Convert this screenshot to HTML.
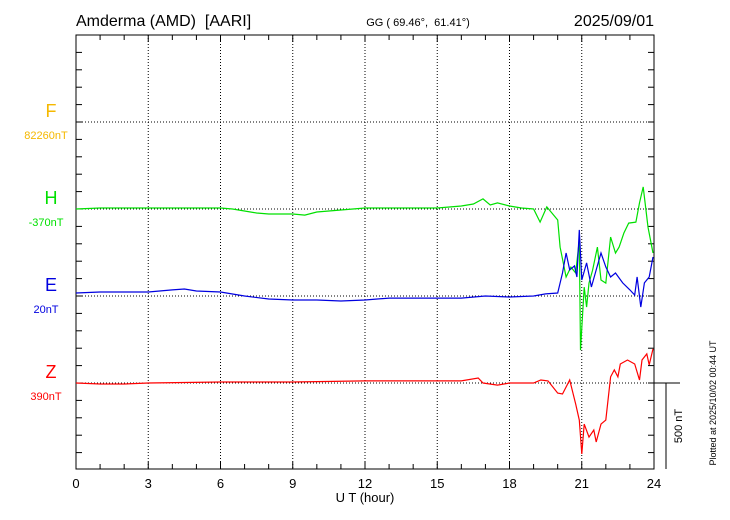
<!DOCTYPE html>
<html><head><meta charset="utf-8"><style>
body{margin:0;background:#fff;}
svg{display:block;font-family:"Liberation Sans",Arial,sans-serif;}
text{white-space:pre;}
</style></head><body>
<svg id="chart" width="730" height="520" viewBox="0 0 730 520">
<text x="76" y="26" font-size="16" xml:space="preserve">Amderma (AMD)  [AARI]</text>
<text x="418" y="26" font-size="11" text-anchor="middle" xml:space="preserve">GG ( 69.46°,  61.41°)</text>
<text x="654" y="26" font-size="16" text-anchor="end">2025/09/01</text>
<g id="grid"></g>
<rect x="76" y="35" width="578" height="434" fill="none" stroke="#000" stroke-width="1"/>
<g id="ticks"></g>
<g id="series"></g>
<g id="labels"></g>
<line x1="654" y1="383" x2="680" y2="383" stroke="#000"/>
<line x1="666" y1="383" x2="666" y2="469" stroke="#000"/>
<text transform="translate(682,426) rotate(-90)" font-size="11" text-anchor="middle">500 nT</text>
<text transform="translate(716,403) rotate(-90)" font-size="9" text-anchor="middle">Plotted at 2025/10/02 00:44 UT</text>
<text x="365" y="502" font-size="13" text-anchor="middle">U T (hour)</text>
</svg>
<script>
const xTicks=[0,3,6,9,12,15,18,21,24];
const compNames=["F","H","E","Z"];
const compBases=["82260nT","-370nT","20nT","390nT"];
const compColors=["#f5b800","#00e000","#0000e0","#ff0000"];
const hTimes=[0,1,3,6,6.5,7.5,8,9,9.5,10,11,12,13,15,16,16.5,16.9,17.2,17.5,18,18.5,19,19.27,19.55,20,20.1,20.35,20.55,20.75,20.9,20.95,21.1,21.2,21.3,21.45,21.65,21.8,22,22.2,22.4,22.55,22.75,22.95,23.25,23.4,23.55,23.6,23.75,23.96];
const hValues=[0,6,6,6,0,-23,-29,-29,-35,-17,-6,6,6,6,17,29,58,23,35,17,6,0,-75,12,-63,-219,-391,-334,-368,-178,-811,-449,-564,-426,-351,-219,-408,-426,-161,-253,-219,-138,-81,-75,35,127,69,-104,-253];
const eTimes=[0,1,3,4,4.5,5,6,7,8,9,10,11,12,13,15,16,17,18,19,19.5,20,20.2,20.35,20.5,20.7,20.8,20.9,21,21.2,21.4,21.6,21.8,22,22.2,22.4,22.7,23,23.2,23.3,23.45,23.6,23.8,23.96];
const eValues=[17,23,23,35,40,29,23,0,-17,-23,-23,-29,-23,-12,-12,-12,0,-6,0,12,17,132,247,150,173,109,380,92,190,52,150,247,167,109,132,75,35,6,109,-63,75,109,224];
const zTimes=[0,1,2,3,6,9,12,14,16,16.7,16.9,17.5,18,19,19.3,19.6,20,20.2,20.5,20.75,20.9,21,21.1,21.3,21.5,21.6,21.8,22,22.2,22.35,22.5,22.6,22.9,23.2,23.4,23.5,23.7,23.8,23.96];
const zValues=[0,-6,-6,0,6,6,12,12,12,29,0,-12,0,0,17,12,-58,-63,17,-121,-213,-408,-236,-311,-270,-339,-236,-213,35,75,35,109,132,109,17,132,167,104,196];
const baseY=[122,209,296,383];
const X0=76,X1=654,Y0=35,Y1=469;
const xs=t=>X0+(X1-X0)*t/24;
const ys=(v,b)=>b-v*87/500;
const NS="http://www.w3.org/2000/svg";
function mk(tag,attrs,parent){const e=document.createElementNS(NS,tag);for(const k in attrs)e.setAttribute(k,attrs[k]);parent.appendChild(e);return e;}
const grid=document.getElementById('grid'),ticks=document.getElementById('ticks'),series=document.getElementById('series'),labels=document.getElementById('labels');
xTicks.forEach(t=>{
  if(t>0&&t<24){const l=mk('line',{x1:xs(t),y1:Y0,x2:xs(t),y2:Y1,stroke:'#000','stroke-dasharray':'1,2'},grid);
  
  }
  const tx=mk('text',{x:xs(t),y:488,'font-size':13,'text-anchor':'middle'},labels);tx.textContent=t;
  
  
});
baseY.forEach(b=>{const l=mk('line',{x1:X0,y1:b,x2:X1,y2:b,stroke:'#000','stroke-dasharray':'1,2'},grid);
  
  });
for(let h=1;h<24;h++){const len=h%3==0?7:5;
  mk('line',{x1:xs(h),y1:Y1,x2:xs(h),y2:Y1-len,stroke:'#000'},ticks);
  mk('line',{x1:xs(h),y1:Y0,x2:xs(h),y2:Y0+len,stroke:'#000'},ticks);}
for(let k=1;k<25;k++){const y=Y0+k*87/5;
  mk('line',{x1:X0,y1:y,x2:X0+6,y2:y,stroke:'#000'},ticks);
  mk('line',{x1:X1,y1:y,x2:X1-6,y2:y,stroke:'#000'},ticks);}
compNames.forEach((n,i)=>{
  const t=mk('text',{x:51,y:baseY[i]-5,'font-size':18,'text-anchor':'middle',fill:compColors[i]},labels);t.textContent=n;
  
  
  const s=mk('text',{x:46,y:baseY[i]+17,'font-size':11,'text-anchor':'middle',fill:compColors[i]},labels);s.textContent=compBases[i];
  
  
});
function draw(times,vals,b,color,name){
  const d=times.map((t,i)=>(i?'L':'M')+xs(t).toFixed(1)+','+ys(vals[i],b).toFixed(1)).join('');
  const p=mk('path',{d:d,fill:'none',stroke:color,'stroke-width':1.2},series);
  
  
}
draw(hTimes,hValues,baseY[1],compColors[1],'h-series-line');
draw(eTimes,eValues,baseY[2],compColors[2],'e-series-line');
draw(zTimes,zValues,baseY[3],compColors[3],'z-series-line');
</script>
</body></html>
